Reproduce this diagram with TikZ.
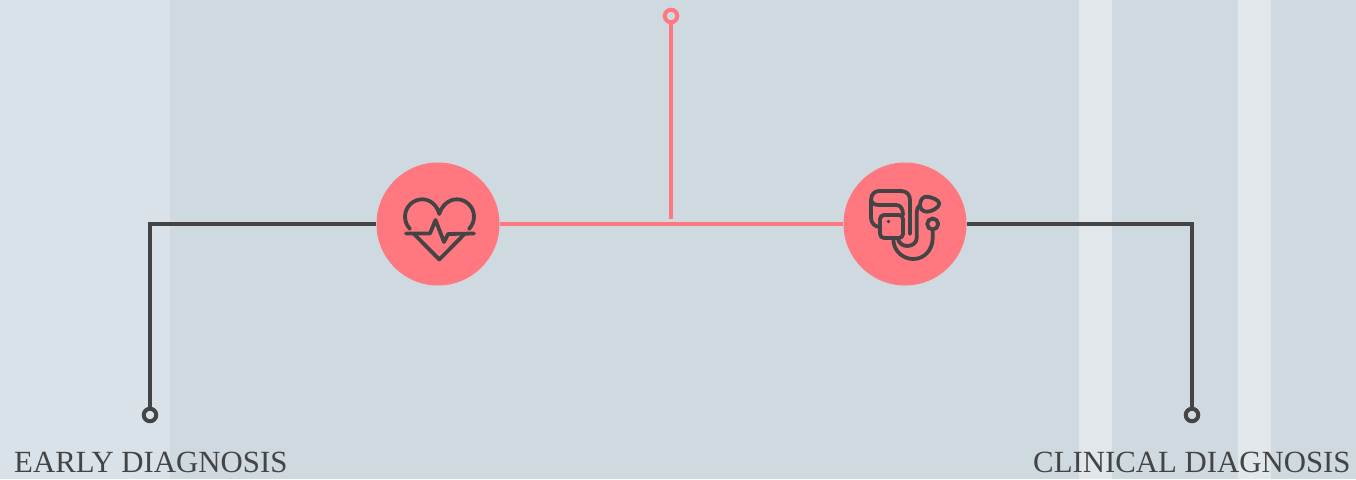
\documentclass[tikz,border=0pt]{standalone}
\usepackage{fontspec}
\setmainfont{Liberation Serif}
\definecolor{panelblue}{HTML}{CED9E0}
\definecolor{panelpale}{HTML}{DAE2E9}
\definecolor{stripepale}{HTML}{E1E7EB}
\definecolor{coral}{HTML}{FF7880}
\definecolor{slate}{HTML}{444444}
\tikzset{
    badge/.style={circle, fill=coral, minimum size=123pt, inner sep=0pt},
    enddot/.style={circle, draw=#1, line width=4pt, fill=panelblue, minimum size=12.5pt, inner sep=0pt},
    wire/.style={line width=3.7pt, draw=#1},
    iconline/.style={line width=3.8pt, draw=slate, line cap=round, line join=round},
    caption/.style={anchor=base west, text=slate, font=\fontsize{30.8}{31}\selectfont, inner sep=0pt}
}
\begin{document}
\begin{tikzpicture}[x=1pt, y=-1pt]
    \useasboundingbox (0,0) rectangle (1356,479);

    % Background panels
    \fill[panelblue] (0,0) rectangle (1356,479);
    \fill[panelpale] (0,0) rectangle (170,479);
    \foreach \x in {1079,1238}
    {
        \fill[stripepale] (\x,0) rectangle (\x+33,479);
    }

    % Badges and end points
    \node[badge] (heart) at (438,224) {};
    \node[badge] (steth) at (905,224) {};
    \node[enddot=slate, fill=panelpale] (earlydot) at (150,415) {};
    \node[enddot=slate] (clinicaldot) at (1192,415) {};
    \node[enddot=coral] (topdot) at (671,16) {};
    \coordinate (stubend) at (671,219);

    % Connectors
    \draw[wire=slate] (earlydot) |- (heart);
    \draw[wire=slate] (clinicaldot) |- (steth);
    \draw[wire=coral] (heart) -- (steth);
    \draw[wire=coral] (topdot) -- (stubend);

    % Heart icon
    \begin{scope}[shift={(heart)}, iconline]
        \draw (-28,5) .. controls (-31.5,1) and (-33,-3) .. (-33,-7.5)
            .. controls (-33,-17) and (-25,-24.7) .. (-15.7,-24.7)
            .. controls (-8,-24.7) and (-1,-19) .. (1.3,-10)
            .. controls (4,-19) and (11,-24.7) .. (19,-24.7)
            .. controls (28,-24.7) and (36,-17) .. (36,-7.5)
            .. controls (36,-3) and (34.5,1) .. (31,5);
        \draw (-32,9.5) -- (-8,9.5) -- (-2.5,-4) -- (6,18) -- (10,10) -- (36,9.5);
        \draw (-24.5,9.5) -- (1.3,35.5) -- (27,9.5);
    \end{scope}

    % Stethoscope icon
    \begin{scope}[shift={(steth)}, iconline]
        \draw (-25,3) .. controls (-30,3) and (-34,-1) .. (-34,-6) -- (-34,-24)
            .. controls (-34,-30) and (-30,-33) .. (-26,-33) -- (-4,-33)
            .. controls (2,-33) and (5,-29) .. (5,-24) -- (5,10);
        \draw (-34,-24) .. controls (-33,-20) and (-30,-19) .. (-25,-19) -- (-9,-19)
            .. controls (-4,-19) and (-2,-15) .. (-2,-9);
        \draw[rounded corners=4pt] (-25,-9) rectangle (-2,14);
        \fill[slate] (-16.5,-2.5) circle (1.8pt);
        \draw (-7,14) .. controls (-7,19) and (-2,22) .. (2,22)
            .. controls (7,22) and (11.7,19) .. (11.7,14) -- (11.7,-12)
            .. controls (11.7,-15) and (13,-17.5) .. (15,-19);
        \draw (15,-19) .. controls (15,-24) and (18,-27.3) .. (21,-27.3)
            .. controls (26,-27.3) and (34.3,-24) .. (34.3,-20.5)
            .. controls (34.3,-16) and (26,-12.3) .. (22,-12.3)
            .. controls (18,-12.3) and (15,-15) .. (15,-19);
        \draw (27.7,0) circle (5.5pt);
        \draw (27.7,5.5) -- (27.7,14) .. controls (27.7,26) and (19,35) .. (8.3,35)
            .. controls (-2,35) and (-11.7,27) .. (-11.7,15);
    \end{scope}

    % Labels
    \node[caption] (earlylabel) at (14,472) {EARLY DIAGNOSIS};
    \node[caption] (clinicallabel) at (1033,472) {CLINICAL DIAGNOSIS};
\end{tikzpicture}
\end{document}
